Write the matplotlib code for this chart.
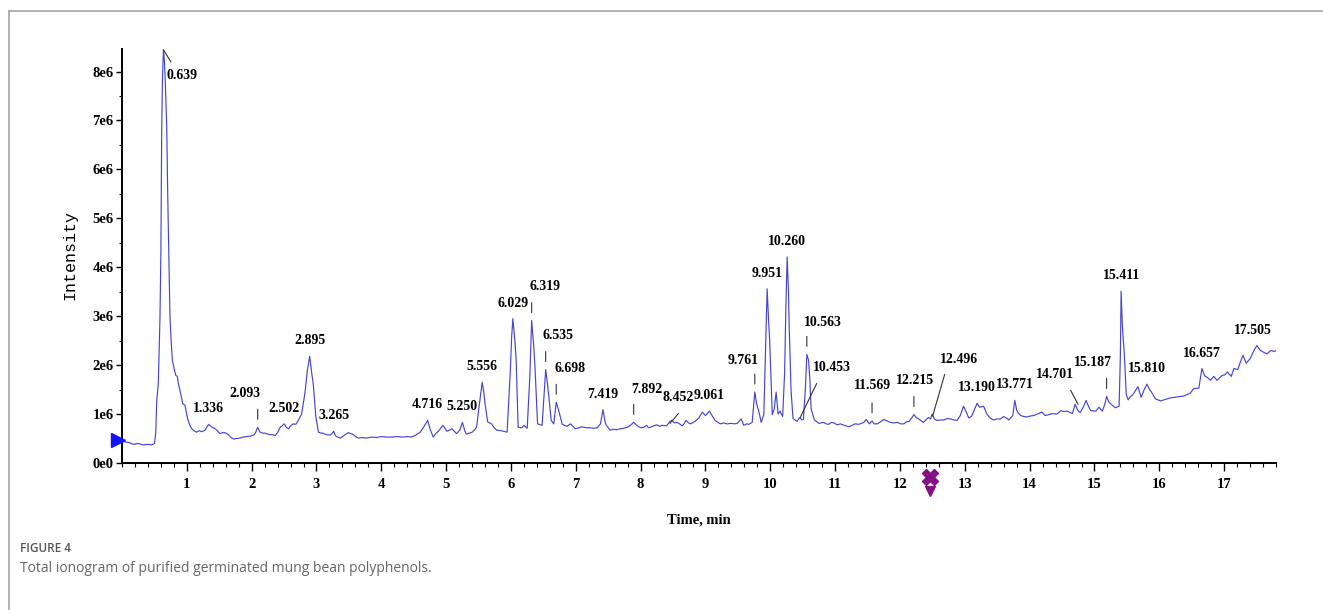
import numpy as np
import matplotlib
matplotlib.use("Agg")
import matplotlib.pyplot as plt
import matplotlib.transforms as mtransforms
from matplotlib.lines import Line2D
from matplotlib.ticker import MultipleLocator, FuncFormatter, FixedLocator

# ---- total ion chromatogram (retention time in min, intensity in units of 1e6 counts) ----
time_min = [
    0.00, 0.05, 0.10, 0.18, 0.25, 0.32, 0.40, 0.46, 0.50, 0.52, 0.535, 0.56, 0.586, 0.60, 0.612,
    0.625, 0.639, 0.655, 0.67, 0.69, 0.705, 0.716, 0.74, 0.76, 0.777, 0.80, 0.83, 0.854, 0.87,
    0.895, 0.92, 0.937, 0.972, 1.00, 1.02, 1.05, 1.075, 1.11, 1.15, 1.19, 1.23, 1.28, 1.336,
    1.38, 1.435, 1.47, 1.51, 1.55, 1.59, 1.64, 1.68, 1.72, 1.77, 1.82, 1.87, 1.93, 1.98, 2.03,
    2.06, 2.093, 2.13, 2.17, 2.21, 2.25, 2.28, 2.32, 2.36, 2.40, 2.44, 2.47, 2.502, 2.54, 2.57,
    2.60, 2.64, 2.68, 2.72, 2.77, 2.82, 2.86, 2.895, 2.93, 2.95, 2.99, 3.03, 3.07, 3.10, 3.15,
    3.21, 3.24, 3.265, 3.29, 3.31, 3.37, 3.43, 3.49, 3.53, 3.57, 3.61, 3.65, 3.70, 3.78, 3.85,
    3.93, 4.00, 4.08, 4.16, 4.24, 4.32, 4.40, 4.46, 4.52, 4.60, 4.66, 4.716, 4.75, 4.80, 4.84,
    4.88, 4.95, 5.01, 5.05, 5.09, 5.16, 5.21, 5.250, 5.29, 5.31, 5.36, 5.40, 5.44, 5.47, 5.52,
    5.556, 5.58, 5.60, 5.64, 5.70, 5.74, 5.78, 5.85, 5.94, 5.99, 6.01, 6.029, 6.06, 6.08, 6.11,
    6.17, 6.20, 6.25, 6.29, 6.319, 6.35, 6.37, 6.41, 6.48, 6.51, 6.535, 6.56, 6.58, 6.62, 6.66,
    6.698, 6.73, 6.75, 6.79, 6.86, 6.92, 6.99, 7.05, 7.09, 7.16, 7.22, 7.28, 7.33, 7.38, 7.419,
    7.45, 7.47, 7.53, 7.58, 7.63, 7.69, 7.74, 7.81, 7.85, 7.892, 7.93, 7.97, 8.01, 8.05, 8.09,
    8.12, 8.15, 8.20, 8.25, 8.29, 8.33, 8.40, 8.452, 8.48, 8.52, 8.56, 8.60, 8.64, 8.67, 8.70,
    8.74, 8.77, 8.81, 8.84, 8.90, 8.95, 9.00, 9.061, 9.11, 9.15, 9.19, 9.23, 9.28, 9.33, 9.40,
    9.45, 9.49, 9.55, 9.59, 9.64, 9.67, 9.72, 9.761, 9.79, 9.82, 9.86, 9.90, 9.93, 9.951, 9.97,
    9.99, 10.03, 10.06, 10.09, 10.12, 10.15, 10.19, 10.22, 10.24, 10.260, 10.28, 10.29, 10.32,
    10.35, 10.41, 10.453, 10.49, 10.51, 10.54, 10.563, 10.59, 10.61, 10.63, 10.68, 10.75, 10.82,
    10.86, 10.90, 10.94, 10.98, 11.03, 11.08, 11.14, 11.21, 11.26, 11.31, 11.36, 11.41, 11.45,
    11.48, 11.51, 11.53, 11.569, 11.60, 11.65, 11.70, 11.75, 11.80, 11.85, 11.90, 11.96, 12.01,
    12.06, 12.10, 12.14, 12.18, 12.215, 12.25, 12.29, 12.33, 12.36, 12.40, 12.44, 12.47, 12.496,
    12.53, 12.57, 12.62, 12.68, 12.73, 12.78, 12.83, 12.88, 12.93, 12.98, 13.02, 13.06, 13.10,
    13.12, 13.15, 13.190, 13.23, 13.29, 13.34, 13.39, 13.44, 13.50, 13.55, 13.60, 13.64, 13.68,
    13.74, 13.771, 13.80, 13.82, 13.86, 13.91, 13.96, 14.01, 14.06, 14.12, 14.19, 14.24, 14.30,
    14.35, 14.42, 14.48, 14.53, 14.58, 14.66, 14.701, 14.74, 14.78, 14.83, 14.87, 14.91, 14.94,
    15.02, 15.07, 15.12, 15.16, 15.187, 15.22, 15.25, 15.32, 15.38, 15.40, 15.411, 15.43, 15.46,
    15.49, 15.52, 15.55, 15.58, 15.62, 15.67, 15.72, 15.77, 15.810, 15.85, 15.87, 15.94, 16.02,
    16.07, 16.12, 16.17, 16.22, 16.28, 16.33, 16.38, 16.43, 16.48, 16.53, 16.61, 16.657, 16.70,
    16.74, 16.79, 16.84, 16.89, 16.93, 16.97, 17.01, 17.05, 17.11, 17.15, 17.21, 17.25, 17.29,
    17.34, 17.40, 17.46, 17.505, 17.56, 17.60, 17.66, 17.72, 17.77, 17.81,
]

intensity_e6 = [
    0.46, 0.43, 0.42, 0.38, 0.40, 0.37, 0.38, 0.37, 0.40, 0.60, 1.25, 1.63, 2.98, 4.35, 6.76,
    7.90, 8.45, 8.20, 7.70, 6.87, 5.50, 4.69, 2.98, 2.45, 2.10, 1.95, 1.79, 1.77, 1.62,
    1.48, 1.32, 1.21, 1.18, 0.98, 0.87, 0.76, 0.70, 0.66, 0.63, 0.66, 0.64, 0.67, 0.79,
    0.74, 0.70, 0.66, 0.60, 0.62, 0.62, 0.58, 0.52, 0.49, 0.50, 0.51, 0.53, 0.54, 0.55, 0.57,
    0.62, 0.73, 0.63, 0.61, 0.61, 0.59, 0.58, 0.58, 0.56, 0.62, 0.73, 0.76, 0.80, 0.72, 0.70,
    0.76, 0.80, 0.79, 0.87, 1.00, 1.41, 1.90, 2.18, 1.80, 1.62, 0.94, 0.63, 0.61, 0.61, 0.58,
    0.57, 0.60, 0.65, 0.56, 0.54, 0.51, 0.57, 0.62, 0.60, 0.58, 0.53, 0.51, 0.52, 0.51, 0.53,
    0.52, 0.54, 0.53, 0.53, 0.54, 0.53, 0.54, 0.53, 0.56, 0.63, 0.75, 0.87, 0.70, 0.53, 0.60,
    0.65, 0.77, 0.65, 0.67, 0.70, 0.60, 0.67, 0.83, 0.65, 0.59, 0.61, 0.63, 0.68, 0.74, 1.28,
    1.65, 1.45, 1.21, 0.84, 0.80, 0.72, 0.67, 0.66, 0.63, 1.89, 2.57, 2.95, 2.50, 2.10, 0.73,
    0.72, 0.77, 0.71, 1.75, 2.91, 2.40, 1.96, 0.80, 0.77, 1.41, 1.91, 1.65, 1.41, 0.87, 0.80,
    1.24, 1.10, 1.00, 0.79, 0.75, 0.80, 0.70, 0.72, 0.74, 0.72, 0.72, 0.71, 0.72, 0.80, 1.09,
    0.85, 0.77, 0.67, 0.69, 0.68, 0.70, 0.71, 0.74, 0.78, 0.83, 0.78, 0.74, 0.72, 0.73, 0.77,
    0.72, 0.73, 0.76, 0.78, 0.75, 0.77, 0.76, 0.85, 0.87, 0.82, 0.83, 0.80, 0.76, 0.80, 0.87,
    0.82, 0.80, 0.83, 0.85, 0.92, 1.04, 0.97, 1.06, 0.95, 0.87, 0.83, 0.80, 0.82, 0.80, 0.81,
    0.80, 0.81, 0.90, 0.77, 0.80, 0.79, 0.83, 1.45, 1.20, 1.07, 0.83, 0.99, 2.50, 3.56, 3.00,
    2.50, 0.99, 1.10, 1.45, 1.00, 1.06, 0.95, 1.82, 3.19, 4.21, 3.50, 2.85, 1.48,
    0.91, 0.85, 0.93, 0.88, 0.89, 1.50, 2.22, 2.10, 1.70, 1.10, 0.88, 0.81, 0.83,
    0.80, 0.79, 0.83, 0.82, 0.78, 0.80, 0.77, 0.74, 0.77, 0.80, 0.79, 0.81, 0.84,
    0.89, 0.83, 0.80, 0.86, 0.80, 0.80, 0.84, 0.89, 0.86, 0.83, 0.82, 0.83, 0.80,
    0.80, 0.84, 0.85, 0.92, 0.99, 0.93, 0.90, 0.86, 0.83, 0.88, 0.93, 0.90, 1.00,
    0.90, 0.87, 0.88, 0.88, 0.91, 0.90, 0.88, 0.87, 0.97, 1.16, 1.05, 0.92, 0.95,
    1.00, 1.10, 1.22, 1.14, 1.16, 1.00, 0.92, 0.88, 0.90, 0.90, 0.95, 0.92, 0.88,
    0.97, 1.28, 1.08, 1.03, 0.97, 0.95, 0.94, 0.96, 0.97, 1.00, 1.04, 0.97, 0.99,
    1.01, 1.00, 1.07, 1.05, 1.06, 1.01, 1.20, 1.08, 1.03, 1.15, 1.28, 1.15, 1.07,
    1.06, 1.14, 1.06, 1.20, 1.36, 1.25, 1.21, 1.13, 1.16, 2.23, 3.51, 2.80, 2.23,
    1.40, 1.29, 1.35, 1.38, 1.45, 1.56, 1.34, 1.51, 1.61, 1.50, 1.47, 1.31, 1.27,
    1.29, 1.31, 1.33, 1.34, 1.35, 1.36, 1.37, 1.40, 1.43, 1.52, 1.53, 1.93, 1.78,
    1.75, 1.69, 1.77, 1.69, 1.74, 1.79, 1.80, 1.86, 1.77, 1.93, 1.91, 2.06, 2.20,
    2.04, 2.13, 2.30, 2.40, 2.30, 2.27, 2.23, 2.30, 2.28, 2.30,
]

# retention-time labels printed above the peaks
peak_labels = [
    "0.639", "1.336", "2.093", "2.502", "2.895", "3.265", "4.716", "5.250", "5.556", "6.029",
    "6.319", "6.535", "6.698", "7.419", "7.892", "8.452", "9.061", "9.761", "9.951", "10.260",
    "10.453", "10.563", "11.569", "12.215", "12.496", "13.190", "13.771", "14.701", "15.187",
    "15.411", "15.810", "16.657", "17.505",
]

x_ticks = list(range(1, 18))
y_ticks = list(range(0, 9))
marker_time = 12.46

# ---- label layout (pixel offsets from the peak apex) ----
text_offset = {
    "0.639": (19, -26), "2.093": (-13, 34), "6.319": (13, 34), "6.535": (12, 34),
    "6.698": (14, 34), "7.892": (13, 33), "9.761": (-12, 32), "10.563": (16, 32),
    "11.569": (0, 35), "12.215": (1, 34), "15.187": (-14, 34), "17.505": (-4, 15),
    "8.452": (8, 24), "10.453": (32, 50), "12.496": (27, 55), "14.701": (-20, 30),
}
# short vertical ticks between label and peak: (bottom, top) in px above apex
tick_span = {k: (8, 18) for k in
             ["2.093", "6.319", "6.535", "6.698", "7.892", "9.761", "10.563",
              "11.569", "12.215", "15.187"]}
# slanted leaders: (start offset, end offset) in px from the apex
leader = {
    "0.639": ((7.5, -12.5), (0.5, -1)),
    "8.452": ((8.5, 8), (0, -2)),
    "10.453": ((17, 34), (0.5, 0)),
    "12.496": ((12.5, 39.5), (0.5, -2)),
    "14.701": ((-4.5, 14), (3, 0)),
}

W, H, DPI = 1323, 610, 100
fig = plt.figure(figsize=(W / DPI, H / DPI), dpi=DPI)
fig.patch.set_facecolor("white")

ax_l, ax_r, ax_t, ax_b = 122, 1276, 49, 463
ax = fig.add_axes([ax_l / W, 1 - ax_b / H, (ax_r - ax_l) / W, (ax_b - ax_t) / H])

trace_color = "#4646d2"
ax.plot(time_min, intensity_e6, color=trace_color, lw=0.85, solid_joinstyle="round")

ax.set_xlim(0, 17.8)
ax.set_ylim(0, 8.46)

for side in ["top", "right"]:
    ax.spines[side].set_visible(False)
for side in ["left", "bottom"]:
    ax.spines[side].set_linewidth(1.4)
    ax.spines[side].set_color("black")

label_font = dict(family=["Liberation Serif", "DejaVu Serif"], weight="bold", size=10)

ax.xaxis.set_major_locator(FixedLocator(x_ticks))
ax.xaxis.set_minor_locator(MultipleLocator(0.2))
ax.yaxis.set_major_locator(FixedLocator(y_ticks))
ax.yaxis.set_minor_locator(MultipleLocator(0.5))
ax.yaxis.set_major_formatter(FuncFormatter(lambda v, p: "0e0" if v == 0 else f"{v:.0f}e6"))
ax.tick_params(axis="x", which="major", direction="out", length=6, width=1, pad=5)
ax.tick_params(axis="x", which="minor", direction="out", length=3, width=0.8)
ax.tick_params(axis="y", which="major", direction="out", length=4, width=1, pad=2)
ax.tick_params(axis="y", which="minor", direction="out", length=2.5, width=0.8)
for lab in ax.get_xticklabels() + ax.get_yticklabels():
    lab.set_fontfamily(label_font["family"])
    lab.set_fontweight("bold")
    lab.set_fontsize(10.5)

# peak labels, ticks and leaders
for lab in peak_labels:
    rt = float(lab)
    apex = float(np.interp(rt, time_min, intensity_e6))
    dx, dy = text_offset.get(lab, (0, 15.5))
    ax.annotate(lab, xy=(rt, apex), xytext=(dx, dy), textcoords="offset pixels",
                ha="center", va="center", color="black", **label_font)
    segs = []
    if lab in tick_span:
        b, t = tick_span[lab]
        segs.append(((0, b), (0, t)))
    if lab in leader:
        segs.append(leader[lab])
    for (x0, y0), (x1, y1) in segs:
        tr0 = mtransforms.offset_copy(ax.transData, fig=fig, x=x0, y=y0, units="dots")
        tr1 = mtransforms.offset_copy(ax.transData, fig=fig, x=x1, y=y1, units="dots")
        ax.annotate("", xy=(rt, apex), xycoords=tr1, xytext=(rt, apex), textcoords=tr0,
                    arrowprops=dict(arrowstyle="-", color="#333333", lw=0.8,
                                    shrinkA=0, shrinkB=0))

# start-of-run arrow on the y axis
start_tr = mtransforms.offset_copy(ax.transData, fig=fig, x=-4, y=0, units="dots")
ax.plot([time_min[0]], [intensity_e6[0]], marker=">", ms=10, color="#1414ff",
        transform=start_tr, clip_on=False, zorder=5)

# purple event marker below the time axis
ev = mtransforms.blended_transform_factory(ax.transData, ax.transAxes)
ax.plot([marker_time], [-0.035], marker="X", ms=11, color="#850f85", transform=ev,
        clip_on=False, zorder=5)
ax.plot([marker_time], [-0.068], marker="v", ms=7, color="#850f85", transform=ev,
        clip_on=False, zorder=5)

ax.set_xlabel("Time, min", family=label_font["family"], weight="bold", size=10.5,
              labelpad=16)

fig.text(70 / W, 1 - 255.5 / H, "Intensity", rotation=90, ha="center", va="center",
         family=["Liberation Mono", "DejaVu Sans Mono"], size=12, color="black")

# caption
fig.text(20 / W, 1 - 548 / H, "FIGURE 4", ha="left", va="center",
         family=["Open Sans", "DejaVu Sans"], weight="semibold", size=8.5, color="#555555")
fig.text(20 / W, 1 - 568 / H, "Total ionogram of purified germinated mung bean polyphenols.",
         ha="left", va="center", family=["Open Sans", "DejaVu Sans"], size=10,
         color="#666666")

# page frame (top and left rules)
frame_c = "#a6a6a6"
fig.add_artist(Line2D([9 / W, 1.0], [1 - 11 / H, 1 - 11 / H], transform=fig.transFigure,
                      color=frame_c, lw=1.2))
fig.add_artist(Line2D([9 / W, 9 / W], [0.0, 1 - 11 / H], transform=fig.transFigure,
                      color=frame_c, lw=1.2))

fig.savefig("out.png", dpi=DPI, facecolor="white")
